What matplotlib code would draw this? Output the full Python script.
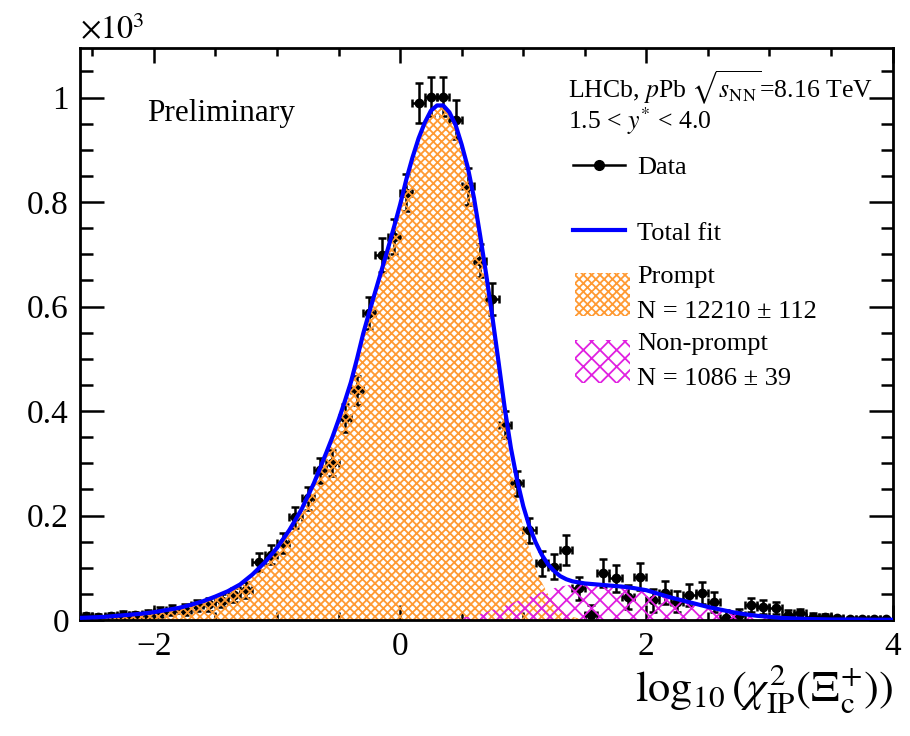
import matplotlib
matplotlib.use("Agg")
import numpy as np
import matplotlib.pyplot as plt
from matplotlib.lines import Line2D
from matplotlib.patches import Patch
from matplotlib.ticker import MultipleLocator, FuncFormatter

plt.rcParams['font.family'] = ['Liberation Serif', 'DejaVu Serif']
plt.rcParams['mathtext.fontset'] = 'stix'
plt.rcParams['hatch.linewidth'] = 1.3

# =========================
# DATOS (x10^3 candidatos por bin)
# =========================
bin_centres = [-2.55, -2.45, -2.35, -2.25, -2.15, -2.05, -1.95, -1.85, -1.75, -1.65,
               -1.55, -1.45, -1.35, -1.25, -1.15, -1.05, -0.95, -0.85, -0.75, -0.65,
               -0.55, -0.45, -0.35, -0.25, -0.15, -0.05, 0.05, 0.15, 0.25, 0.35,
               0.45, 0.55, 0.65, 0.75, 0.85, 0.95, 1.05, 1.15, 1.25, 1.35,
               1.45, 1.55, 1.65, 1.75, 1.85, 1.95, 2.05, 2.15, 2.25, 2.35,
               2.45, 2.55, 2.65, 2.75, 2.85, 2.95, 3.05, 3.15, 3.25, 3.35,
               3.45, 3.55, 3.65, 3.75, 3.85, 3.95]
counts = [0.007, 0.006, 0.008, 0.010, 0.009, 0.012, 0.015, 0.019, 0.020, 0.028,
          0.030, 0.037, 0.048, 0.057, 0.111, 0.125, 0.147, 0.197, 0.233, 0.287,
          0.300, 0.387, 0.440, 0.588, 0.699, 0.734, 0.818, 0.990, 1.002, 1.002,
          0.958, 0.830, 0.688, 0.615, 0.374, 0.262, 0.172, 0.109, 0.102, 0.134,
          0.061, 0.010, 0.090, 0.080, 0.044, 0.083, 0.038, 0.052, 0.035, 0.048,
          0.052, 0.035, 0.004, 0.010, 0.029, 0.025, 0.023, 0.010, 0.013, 0.006,
          0.005, 0.003, 0.002, 0.002, 0.002, 0.001]
count_err = [0.006, 0.006, 0.006, 0.007, 0.007, 0.008, 0.009, 0.010, 0.010, 0.011,
             0.012, 0.013, 0.014, 0.015, 0.017, 0.018, 0.019, 0.020, 0.022, 0.024,
             0.025, 0.027, 0.028, 0.031, 0.033, 0.034, 0.035, 0.038, 0.038, 0.038,
             0.037, 0.035, 0.032, 0.031, 0.026, 0.024, 0.024, 0.024, 0.024, 0.028,
             0.022, 0.018, 0.026, 0.026, 0.023, 0.026, 0.022, 0.022, 0.020, 0.021,
             0.021, 0.019, 0.015, 0.012, 0.014, 0.013, 0.012, 0.009, 0.009, 0.007,
             0.006, 0.005, 0.004, 0.004, 0.004, 0.003]
bin_width = 0.1

# componentes del ajuste
fit_x = [-2.6, -2.5, -2.4, -2.3, -2.2, -2.1, -2.0, -1.9, -1.8, -1.7,
         -1.6, -1.5, -1.4, -1.3, -1.2, -1.1, -1.0, -0.9, -0.8, -0.7,
         -0.6, -0.55, -0.5, -0.45, -0.4, -0.35, -0.3, -0.25, -0.2, -0.15,
         -0.1, -0.05, 0.0, 0.05, 0.1, 0.15, 0.2, 0.25, 0.3, 0.35,
         0.4, 0.45, 0.5, 0.55, 0.6, 0.65, 0.7, 0.75, 0.8, 0.85,
         0.9, 0.95, 1.0, 1.05, 1.1, 1.15, 1.2, 1.25, 1.3, 1.35,
         1.4, 1.45, 1.5, 1.55, 1.6,
         1.7, 1.8, 1.9, 2.0, 2.1, 2.2, 2.3, 2.4, 2.5, 2.6,
         2.7, 2.8, 2.9, 3.0, 3.1, 3.2, 3.3, 3.4, 3.5, 3.6,
         3.7, 3.8, 3.9, 4.0]
prompt_fit = [0.004, 0.005, 0.006, 0.008, 0.010, 0.012, 0.015, 0.019, 0.023, 0.029,
              0.036, 0.045, 0.055, 0.068, 0.087, 0.110, 0.138, 0.172, 0.212, 0.262,
              0.320, 0.350, 0.383, 0.418, 0.455, 0.500, 0.548, 0.590, 0.630, 0.670,
              0.710, 0.752, 0.795, 0.843, 0.885, 0.922, 0.952, 0.975, 0.985, 0.984,
              0.970, 0.945, 0.905, 0.860, 0.800, 0.725, 0.645, 0.560, 0.470, 0.378,
              0.298, 0.232, 0.178, 0.135, 0.100, 0.072, 0.050, 0.033, 0.020, 0.012,
              0.006, 0.003, 0.001, 0.0, 0.0,
              0.0, 0.0, 0.0, 0.0, 0.0, 0.0, 0.0, 0.0, 0.0, 0.0,
              0.0, 0.0, 0.0, 0.0, 0.0, 0.0, 0.0, 0.0, 0.0, 0.0,
              0.0, 0.0, 0.0, 0.0]
nonprompt_fit = [0.0, 0.0, 0.0, 0.0, 0.0, 0.0, 0.0, 0.0, 0.0, 0.0,
                 0.0, 0.0, 0.0, 0.0, 0.0, 0.0, 0.0, 0.0, 0.0, 0.0,
                 0.0, 0.0, 0.0, 0.0, 0.0, 0.0, 0.0, 0.0, 0.0, 0.0,
                 0.0, 0.0, 0.0, 0.0, 0.0, 0.0, 0.0, 0.0, 0.0, 0.001,
                 0.002, 0.003, 0.005, 0.006, 0.008, 0.011, 0.015, 0.019, 0.023, 0.027,
                 0.031, 0.036, 0.040, 0.044, 0.049, 0.053, 0.057, 0.061, 0.064, 0.066,
                 0.068, 0.069, 0.069, 0.069, 0.068,
                 0.066, 0.064, 0.061, 0.057, 0.050, 0.043, 0.037, 0.031, 0.025, 0.020,
                 0.015, 0.011, 0.008, 0.006, 0.004, 0.003, 0.002, 0.0015, 0.001, 0.001,
                 0.001, 0.0005, 0.0005, 0.0005]

ORANGE = '#FF9A33'
MAGENTA = '#E020E0'
BLUE = '#0000FF'

# =========================
# FIGURA
# =========================
fig = plt.figure(figsize=(9.1, 7.36), dpi=100)
ax = fig.add_axes([0.0879, 0.1576, 0.893, 0.7772])

total_fit = np.array(prompt_fit) + np.array(nonprompt_fit)

ax.errorbar(bin_centres, counts, yerr=count_err, xerr=bin_width / 2,
            fmt='o', color='black', ms=6, elinewidth=1.8, capsize=3,
            capthick=1.8, zorder=1)

ax.fill_between(fit_x, prompt_fit, facecolor='none', edgecolor=ORANGE,
                hatch='xxxx', linewidth=0, zorder=2)
ax.fill_between(fit_x, nonprompt_fit, facecolor='none', edgecolor=MAGENTA,
                hatch='xx', linewidth=0, zorder=2)
ax.plot(fit_x, total_fit, color=BLUE, lw=3, zorder=3)

ax.set_xlim(-2.6, 4.0)
ax.set_ylim(0, 1.095)

# ejes estilo ROOT
ax.xaxis.set_major_locator(MultipleLocator(2))
ax.xaxis.set_minor_locator(MultipleLocator(0.5))
ax.yaxis.set_major_locator(MultipleLocator(0.2))
ax.yaxis.set_minor_locator(MultipleLocator(0.05))
ax.yaxis.set_major_formatter(FuncFormatter(lambda v, p: f"{v:g}"))
ax.xaxis.set_major_formatter(FuncFormatter(lambda v, p: f"{v:g}".replace('-', '\u2212')))
ax.tick_params(which='both', direction='in', top=True, right=True, width=1.8)
ax.tick_params(axis='y', which='major', length=17, labelsize=24, pad=8)
ax.tick_params(axis='y', which='minor', length=9)
ax.tick_params(axis='x', which='major', length=11, labelsize=24, pad=8)
ax.tick_params(axis='x', which='minor', length=6)
for s in ax.spines.values():
    s.set_linewidth(2)

ax.set_xlabel(r'$\log_{10}(\chi^{2}_{\mathrm{IP}}(\mathit{Ξ}_{\mathrm{c}}^{+}))$',
              loc='right', fontsize=32, labelpad=0)
ax.text(0.0, 1.004, r'$\times10^{3}$', transform=ax.transAxes,
        ha='left', va='bottom', fontsize=23)

ax.text(0.083, 0.886, 'Preliminary', transform=ax.transAxes, fontsize=22.5,
        va='center')
ax.text(0.601, 0.93, r'LHCb, $p$Pb $\sqrt{s_{\mathrm{NN}}}$=8.16 TeV',
        transform=ax.transAxes, fontsize=18.5, va='center')
ax.text(0.601, 0.872, r'1.5 < $y^{*}$ < 4.0', transform=ax.transAxes,
        fontsize=18.5, va='center')

# leyendas
h_data = Line2D([], [], color='black', marker='o', ms=7, lw=1.8)
h_fit = Line2D([], [], color=BLUE, lw=3)
leg1 = ax.legend([h_data, h_fit], ['Data', 'Total fit'],
                 loc='upper left', bbox_to_anchor=(573 / 910, 1 - 156 / 736),
                 bbox_transform=fig.transFigure, frameon=False, fontsize=19,
                 borderpad=0, borderaxespad=0, handlelength=1.97,
                 handletextpad=0.45, labelspacing=1.58)
ax.add_artist(leg1)

h_p = Patch(facecolor='none', edgecolor=ORANGE, hatch='xxxx', linewidth=0)
h_np = Patch(facecolor='none', edgecolor=MAGENTA, hatch='xx', linewidth=0)
leg2 = ax.legend([h_p, h_np],
                 ['Prompt\nN = 12210 \u00b1 112', 'Non-prompt\nN = 1086 \u00b1 39'],
                 loc='upper left', bbox_to_anchor=(575 / 910, 1 - 266 / 736),
                 bbox_transform=fig.transFigure, frameon=False, fontsize=19,
                 borderpad=0, borderaxespad=0, handlelength=2.08,
                 handleheight=2.1, handletextpad=0.27, labelspacing=0.38)
for t in leg2.get_texts():
    t.set_linespacing(1.75)

fig.savefig('out.png', dpi=100)
